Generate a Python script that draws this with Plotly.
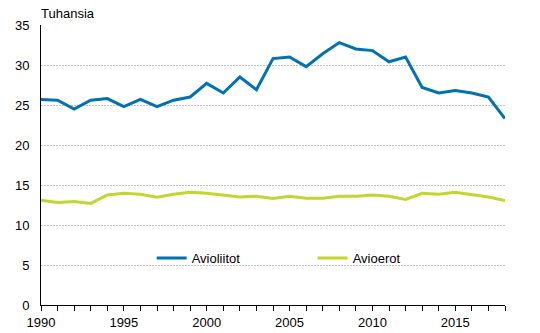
import plotly.graph_objects as go

years = list(range(1990, 2019))
avioliitot = [25.7, 25.6, 24.5, 25.6, 25.8, 24.8, 25.7, 24.8, 25.6, 26.0,
              27.7, 26.5, 28.5, 26.9, 30.8, 31.0, 29.8, 31.4, 32.8, 32.0,
              31.8, 30.4, 31.0, 27.2, 26.5, 26.8, 26.5, 26.0, 23.3]
avioerot = [13.1, 12.8, 12.95, 12.7, 13.75, 13.96, 13.85, 13.46, 13.85, 14.08,
            13.96, 13.75, 13.5, 13.6, 13.3, 13.6, 13.35, 13.35, 13.6, 13.6,
            13.75, 13.6, 13.2, 13.96, 13.85, 14.08, 13.75, 13.5, 13.05]
series_names = ["Avioliitot", "Avioerot"]
y_title = "Tuhansia"

fig = go.Figure()
fig.add_trace(go.Scatter(x=years, y=avioliitot, mode="lines", name=series_names[0],
                         line=dict(color="#0072B0", width=3)))
fig.add_trace(go.Scatter(x=years, y=avioerot, mode="lines", name=series_names[1],
                         line=dict(color="#C2D630", width=3)))

font = dict(family="Liberation Sans, Arial, sans-serif", size=13, color="#000000")
fig.update_layout(
    width=540, height=333,
    margin=dict(l=41, r=35, t=25, b=28, autoexpand=False),
    plot_bgcolor="white", paper_bgcolor="white",
    font=font,
    showlegend=True,
    legend=dict(orientation="h", x=0.2385, y=0.168, xanchor="left", yanchor="middle",
                bgcolor="rgba(0,0,0,0)", entrywidth=116, entrywidthmode="pixels",
                font=font, itemwidth=30),
    xaxis=dict(range=[1990, 2018], tick0=1990, dtick=5, showgrid=False,
               showline=True, linecolor="black", linewidth=1, automargin=False,
               ticks="outside", ticklen=5, tickcolor="black",
               minor=dict(dtick=1, tick0=1990, ticks="outside", ticklen=5, tickcolor="black", showgrid=False),
               zeroline=False, tickfont=font),
    yaxis=dict(range=[0, 35], dtick=5, showgrid=True, gridcolor="#C4C4C4", griddash="2px,1px",
               gridwidth=1, showline=True, linecolor="black", linewidth=1, automargin=False,
               ticks="", zeroline=False, tickfont=font, ticklabelstandoff=8),
    annotations=[dict(text=y_title, xref="paper", yref="paper", x=0, y=1, xanchor="left",
                      yanchor="bottom", showarrow=False, font=font, xshift=-2, yshift=2)],
)

fig.write_html("out.html")
